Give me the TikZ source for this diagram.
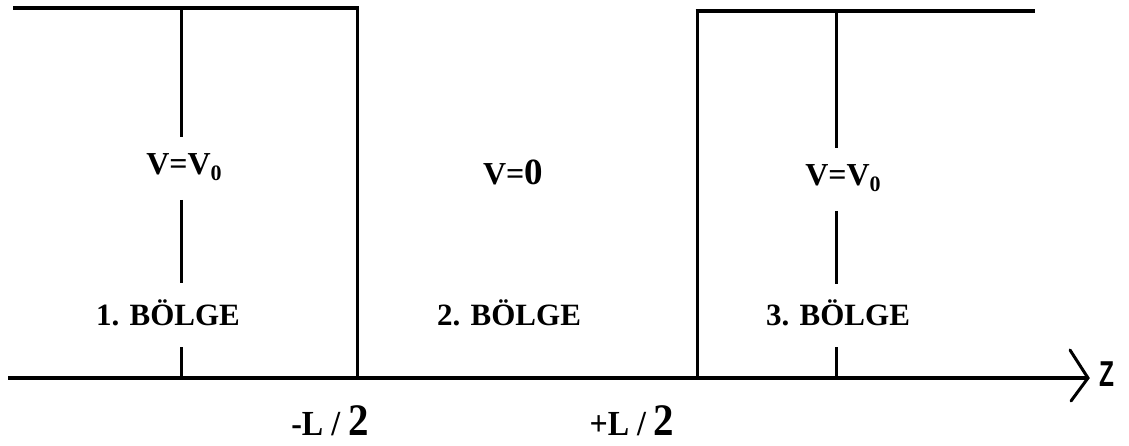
\documentclass[tikz,border=0pt]{standalone}
\usepackage{fontspec}
\setmainfont{Liberation Serif}
\newfontfamily\zfont{Liberation Sans}
\newcommand{\subzero}{\raisebox{-6pt}{\fontsize{22}{22}\selectfont 0}}
\begin{document}
\begin{tikzpicture}[x=1pt,y=-1pt,
  wall/.style={line width=3pt},
  topline/.style={line width=4pt},
  axisline/.style={line width=4pt},
  tick/.style={line width=3pt},
  lbl/.style={inner sep=0pt,font=\bfseries\fontsize{31}{31}\selectfont},
  vlbl/.style={inner sep=0pt,font=\bfseries\fontsize{32}{32}\selectfont},
  poslbl/.style={inner sep=0pt,yscale=1.1,font=\bfseries\fontsize{32}{32}\selectfont}]
\useasboundingbox (0,0) rectangle (1129,446);
% coordinates
\coordinate (tl0) at (13,8);
\coordinate (tl1) at (358.5,8);
\coordinate (wl) at (357,8);
\coordinate (wlb) at (357,378);
\coordinate (wr) at (697,11);
\coordinate (wrb) at (697,378);
\coordinate (tr0) at (695.5,11);
\coordinate (tr1) at (1035,11);
\coordinate (ax0) at (8,378);
\coordinate (ax1) at (1088,378);
\coordinate (arU) at (1070,350);
\coordinate (arD) at (1071,401);
% walls
\draw[topline] (tl0) -- (tl1);
\draw[wall] (wl) -- (wlb);
\draw[topline] (tr0) -- (tr1);
\draw[wall] (wr) -- (wrb);
\draw[axisline] (ax0) -- (ax1);
\draw[line width=3pt,line cap=round] (arU) -- (ax1) -- (arD);
\node[inner sep=0pt,font=\zfont\bfseries\fontsize{36}{36}\selectfont,xscale=0.68] (z) at (1106.5,374) {Z};
% labels
\node[vlbl] (v1) at (184,167) {V=V\subzero};
\node[vlbl] (v2) at (513,172) {V=\fontsize{37}{37}\selectfont 0};
\node[vlbl] (v3) at (843,178) {V=V\subzero};
\node[lbl] (b1) at (168,313) {1. BÖLGE};
\node[lbl] (b2) at (509,313) {2. BÖLGE};
\node[lbl] (b3) at (838,313) {3. BÖLGE};
\node[poslbl] (lm) at (330,421) {-L / {\fontsize{41}{41}\selectfont 2}};
\node[poslbl] (lp) at (632,421) {+L / {\fontsize{41}{41}\selectfont 2}};
% dividing ticks
\draw[tick] (181,8) -- (181,137);
\draw[tick] (181,200) -- (181,283);
\draw[tick] (181,347) -- (181,378);
\draw[tick] (836,11) -- (836,148);
\draw[tick] (836,211) -- (836,284);
\draw[tick] (836,347) -- (836,378);
\end{tikzpicture}
\end{document}
